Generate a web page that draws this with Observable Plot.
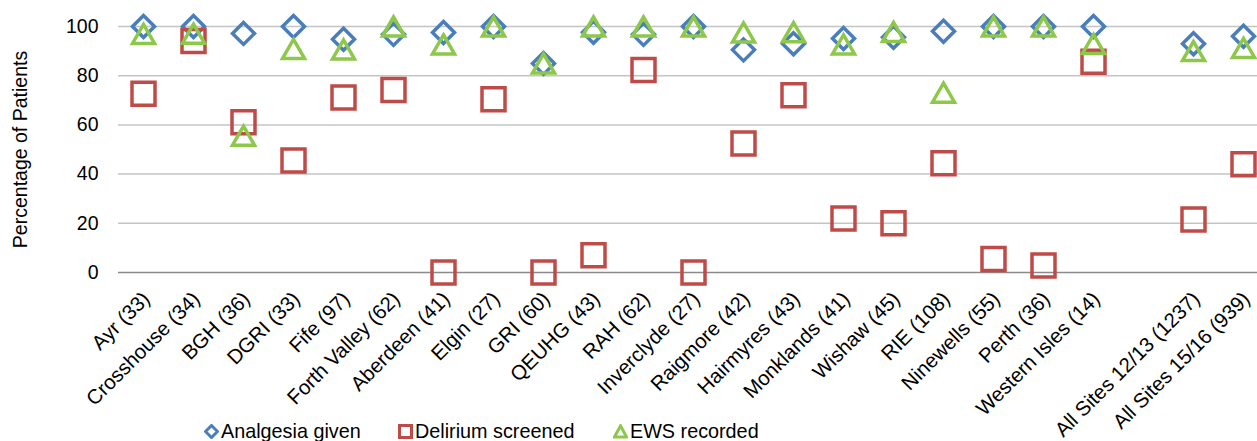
<!DOCTYPE html>
<html>
<head>
<meta charset="utf-8">
<script src="https://cdn.jsdelivr.net/npm/d3@7"></script>
<script src="https://cdn.jsdelivr.net/npm/@observablehq/plot@0.6"></script>
<style>
  body { margin: 0; background: #fff; font-family: "Liberation Sans", Arial, sans-serif; }
  #chart { position: relative; width: 1257px; height: 441px; overflow: hidden; }
  .legend-item { position: absolute; top: 421px; display: flex; align-items: center; font-size: 19.8px; color: #000; line-height: 20px; white-space: nowrap; }
  .legend-item svg { display: block; margin-right: 2px; }
</style>
</head>
<body>
<div id="chart"></div>
<script>
// Sites audited (number of patients in brackets)
const sites = [
  "Ayr (33)", "Crosshouse (34)", "BGH (36)", "DGRI (33)", "Fife (97)",
  "Forth Valley (62)", "Aberdeen (41)", "Elgin (27)", "GRI (60)", "QEUHG (43)",
  "RAH (62)", "Inverclyde (27)", "Raigmore (42)", "Hairmyres (43)", "Monklands (41)",
  "Wishaw (45)", "RIE (108)", "Ninewells (55)", "Perth (36)", "Western Isles (14)",
  "All Sites 12/13 (1237)", "All Sites 15/16 (939)"
];
// Empty slot separating the individual sites from the national totals
const spacer = " ";
const siteCount = 20;

const analgesia = [100, 100, 97.2, 100, 94.8, 96.8, 97.6, 100, 85, 97.7,
                   96.8, 100, 90.5, 93, 95.1, 95.6, 98.1, 100, 100, 100, 93, 96];
const delirium  = [72.7, 94.1, 61.1, 45.5, 71.1, 74.2, 0, 70.4, 0, 7,
                   82.3, 0, 52.4, 72.1, 22, 20, 44.4, 5.5, 2.8, 85.7, 21.5, 44];
const ews       = [97, 97.1, 55.6, 90.9, 90.7, 100, 92.7, 100, 85, 100,
                   100, 100, 97.6, 97.7, 92.7, 97.8, 73.1, 100, 100, 92.9, 90, 91.3];

const seriesNames = ["Analgesia given", "Delirium screened", "EWS recorded"];
const seriesColors = ["#4A7EBB", "#BE4B48", "#8DC84A"];
const yTicks = [0, 20, 40, 60, 80, 100];

const xDomain = [...sites.slice(0, siteCount), spacer, ...sites.slice(siteCount)];

// Open marker shapes, centred on their bounding boxes
const unit = size => Math.sqrt(size / Math.PI) / 10;
const diamondOpen = {draw(ctx, size) {
  const r = 11 * unit(size);
  ctx.moveTo(0, -r); ctx.lineTo(r, 0); ctx.lineTo(0, r); ctx.lineTo(-r, 0); ctx.closePath();
}};
const squareOpen = {draw(ctx, size) {
  const r = 11.5 * unit(size);
  ctx.rect(-r, -r, 2 * r, 2 * r);
}};
const triangleOpen = {draw(ctx, size) {
  const s = unit(size), w = 11 * s, h = 9.5 * s;
  ctx.moveTo(0, -h); ctx.lineTo(w, h); ctx.lineTo(-w, h); ctx.closePath();
}};
const symbols = [diamondOpen, squareOpen, triangleOpen];

const rows = values => sites.map((site, i) => ({site, value: values[i]}));
const seriesValues = [analgesia, delirium, ews];

const chart = Plot.plot({
  width: 1257,
  height: 441,
  marginLeft: 118,
  marginRight: 0,
  marginTop: 26,
  marginBottom: 169,
  style: {fontFamily: "'Liberation Sans', Arial, sans-serif", fontSize: "19px", color: "#000", background: "#fff"},
  x: {type: "band", domain: xDomain, range: [118, 1268], padding: 0},
  y: {domain: [0, 100]},
  marks: [
    Plot.ruleY(yTicks.filter(d => d > 0), {stroke: "#c4c4c4", strokeWidth: 1.5}),
    Plot.ruleY([0], {stroke: "#8a8a8a", strokeWidth: 1.5}),
    Plot.axisY({ticks: yTicks, tickSize: 0, tickPadding: 20, fontSize: 19.5,
                label: "Percentage of Patients", labelAnchor: "center", labelArrow: "none", labelOffset: 105}),
    Plot.axisX({tickRotate: -45, tickSize: 0, tickPadding: 23, dx: 3, fontSize: 20.4, label: null}),
    ...seriesValues.map((vals, k) => Plot.dot(rows(vals), {
      x: "site", y: "value", symbol: symbols[k], r: 10,
      stroke: seriesColors[k], strokeWidth: 3.5, fill: "none"
    }))
  ]
});
const root = document.getElementById("chart");
root.appendChild(chart);

// Legend beneath the plot area
const legendLefts = [204, 398, 613];
const legendIcons = [
  '<path d="M7.5 1.5 L13.5 7.5 L7.5 13.5 L1.5 7.5 Z"/>',
  '<rect x="1.5" y="1.5" width="12" height="12"/>',
  '<path d="M7.5 1.8 L13.5 13 L1.5 13 Z"/>'
];
seriesNames.forEach((name, k) => {
  const item = document.createElement("div");
  item.className = "legend-item";
  item.style.left = legendLefts[k] + "px";
  item.innerHTML = `<svg width="15" height="15" viewBox="0 0 15 15"><g fill="none" stroke="${seriesColors[k]}" stroke-width="3">${legendIcons[k]}</g></svg><span>${name}</span>`;
  root.appendChild(item);
});
</script>
</body>
</html>
